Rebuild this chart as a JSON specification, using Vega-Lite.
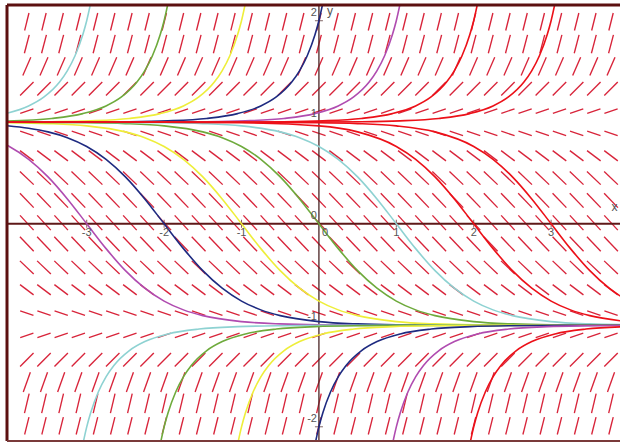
{
  "$schema": "https://vega.github.io/schema/vega-lite/v6.json",
  "width": 613,
  "height": 436,
  "autosize": {"type": "none"},
  "padding": {"left": 7, "top": 5, "right": 0, "bottom": 1},
  "background": "white",
  "config": {"view": {"stroke": null}},
  "datasets": {
    "grid": [
      {"xs": [-3.774,-3.552,-3.33,-3.108,-2.886,-2.664,-2.442,-2.22,-1.998,-1.776,-1.554,-1.332,-1.11,-0.888,-0.666,-0.444,-0.222,0,0.222,0.444,0.666,0.888,1.11,1.332,1.554,1.776,1.998,2.22,2.442,2.664,2.886,3.108,3.33,3.552,3.774],
       "ys": [1.99,1.77,1.55,1.33,1.11,0.89,0.67,0.45,0.23,0.01,-0.2,-0.43,-0.65,-0.88,-1.1,-1.34,-1.56,-1.77,-1.99]}
    ],
    "curves": [
      {"id":"m1","set":"purple","xs":[-4.05,-4,-3.75,-3.5,-3.25,-3,-2.75,-2.5,-2.25,-2,-1.75,-1.5,-1,-0.5,0,1,2,3.95],"ys":[0.7818,0.7616,0.6351,0.4621,0.2449,0,-0.2449,-0.4621,-0.6351,-0.7616,-0.8483,-0.9051,-0.964,-0.9866,-0.9951,-0.9993,-0.9999,-1]},
      {"id":"m2","set":"navy","xs":[-4.05,-3.75,-3.5,-3.25,-3,-2.75,-2.5,-2.25,-2,-1.75,-1.5,-1.25,-1,-0.75,-0.5,0,0.5,1,2,3.95],"ys":[0.9672,0.9413,0.9051,0.8483,0.7616,0.6351,0.4621,0.2449,0,-0.2449,-0.4621,-0.6351,-0.7616,-0.8483,-0.9051,-0.964,-0.9866,-0.9951,-0.9993,-1]},
      {"id":"m3","set":"yellow","xs":[-4.05,-3.5,-3,-2.5,-2.25,-2,-1.75,-1.5,-1.25,-1,-0.75,-0.5,-0.25,0,0.25,0.5,1,1.5,2,3,3.95],"ys":[0.9955,0.9866,0.964,0.9051,0.8483,0.7616,0.6351,0.4621,0.2449,0,-0.2449,-0.4621,-0.6351,-0.7616,-0.8483,-0.9051,-0.964,-0.9866,-0.9951,-0.9993,-1]},
      {"id":"m4","set":"green","xs":[-4.05,-3,-2.5,-2,-1.5,-1.25,-1,-0.75,-0.5,-0.25,0,0.25,0.5,0.75,1,1.25,1.5,2,2.5,3,3.95],"ys":[0.9994,0.9951,0.9866,0.964,0.9051,0.8483,0.7616,0.6351,0.4621,0.2449,0,-0.2449,-0.4621,-0.6351,-0.7616,-0.8483,-0.9051,-0.964,-0.9866,-0.9951,-0.9993]},
      {"id":"m5","set":"cyan","xs":[-4.05,-3,-2,-1.5,-1,-0.5,-0.25,0,0.25,0.5,0.75,1,1.25,1.5,1.75,2,2.25,2.5,3,3.5,3.95],"ys":[1,0.9993,0.9951,0.9866,0.964,0.9051,0.8483,0.7616,0.6351,0.4621,0.2449,0,-0.2449,-0.4621,-0.6351,-0.7616,-0.8483,-0.9051,-0.964,-0.9866,-0.9946]},
      {"id":"u1","set":"cyan","xs":[-4.05,-3.751,-3.551,-3.351,-3.251,-3.151,-3.051,-3.001,-2.931],"ys":[1.0851,1.1605,1.2492,1.396,1.506,1.6546,1.862,1.998,2.241]},
      {"id":"u2","set":"green","xs":[-4.05,-3.451,-3.051,-2.751,-2.551,-2.351,-2.251,-2.151,-2.051,-2.001,-1.931],"ys":[1.0111,1.0373,1.085,1.1605,1.2492,1.396,1.506,1.6546,1.862,1.998,2.241]},
      {"id":"u3","set":"yellow","xs":[-4.05,-3.451,-2.951,-2.451,-2.051,-1.751,-1.551,-1.351,-1.251,-1.151,-1.051,-1.001,-0.931],"ys":[1.0015,1.005,1.0136,1.0373,1.085,1.1605,1.2492,1.396,1.506,1.6546,1.862,1.998,2.241]},
      {"id":"u4","set":"navy","xs":[-4.05,-3.451,-2.451,-1.951,-1.451,-1.051,-0.751,-0.551,-0.351,-0.251,-0.151,-0.051,-0.001,0.069],"ys":[1.0002,1.0007,1.005,1.0136,1.0373,1.085,1.1605,1.2492,1.396,1.506,1.6546,1.862,1.998,2.241]},
      {"id":"u5","set":"purple","xs":[-4.05,-2.451,-1.451,-0.951,-0.451,-0.051,0.249,0.449,0.649,0.749,0.849,0.949,0.999,1.069],"ys":[1,1.0007,1.005,1.0136,1.0373,1.085,1.1605,1.2492,1.396,1.506,1.6546,1.862,1.998,2.241]},
      {"id":"l1","set":"cyan","xs":[-3.069,-2.999,-2.949,-2.849,-2.749,-2.649,-2.449,-2.249,-1.949,-1.549,-1.049,-0.549,0.451,3.95],"ys":[-2.241,-1.998,-1.862,-1.6546,-1.506,-1.396,-1.2492,-1.1605,-1.085,-1.0373,-1.0136,-1.005,-1.0007,-1]},
      {"id":"l2","set":"green","xs":[-2.069,-1.999,-1.949,-1.849,-1.749,-1.649,-1.449,-1.249,-0.949,-0.549,-0.049,0.451,1.451,3.95],"ys":[-2.241,-1.998,-1.862,-1.6546,-1.506,-1.396,-1.2492,-1.1605,-1.085,-1.0373,-1.0136,-1.005,-1.0007,-1]},
      {"id":"l3","set":"yellow","xs":[-1.069,-0.999,-0.949,-0.849,-0.749,-0.649,-0.449,-0.249,0.051,0.451,0.951,1.451,2.451,3.95],"ys":[-2.241,-1.998,-1.862,-1.6546,-1.506,-1.396,-1.2492,-1.1605,-1.085,-1.0373,-1.0136,-1.005,-1.0007,-1]},
      {"id":"l4","set":"navy","xs":[-0.069,0.001,0.051,0.151,0.251,0.351,0.551,0.751,1.051,1.451,1.951,2.451,3.451,3.95],"ys":[-2.241,-1.998,-1.862,-1.6546,-1.506,-1.396,-1.2492,-1.1605,-1.085,-1.0373,-1.0136,-1.005,-1.0007,-1.0004]},
      {"id":"l5","set":"purple","xs":[0.931,1.001,1.051,1.151,1.251,1.351,1.551,1.751,2.051,2.451,2.951,3.451,3.95],"ys":[-2.241,-1.998,-1.862,-1.6546,-1.506,-1.396,-1.2492,-1.1605,-1.085,-1.0373,-1.0136,-1.005,-1.0017]},
      {"id":"m6","set":"red","xs":[-4.05,-2,-1,0,0.5,1,1.25,1.5,1.75,2,2.25,2.5,2.75,3,3.25,3.5,3.95],"ys":[1,0.9993,0.9951,0.964,0.9051,0.7616,0.6351,0.4621,0.2449,0,-0.2449,-0.4621,-0.6351,-0.7616,-0.8483,-0.9051,-0.9603]},
      {"id":"m7","set":"red","xs":[-4.05,-1,0,0.5,1,1.5,2,2.25,2.5,2.75,3,3.25,3.5,3.75,3.95],"ys":[1,0.9993,0.9951,0.9866,0.964,0.9051,0.7616,0.6351,0.4621,0.2449,0,-0.2449,-0.4621,-0.6351,-0.7398]},
      {"id":"u6","set":"red","xs":[-4.05,-1.451,-0.451,0.049,0.549,0.949,1.249,1.449,1.649,1.749,1.849,1.949,1.999,2.069],"ys":[1,1.0007,1.005,1.0136,1.0373,1.085,1.1605,1.2492,1.396,1.506,1.6546,1.862,1.998,2.241]},
      {"id":"u7","set":"red","xs":[-4.05,-0.451,0.549,1.049,1.549,1.949,2.249,2.449,2.649,2.749,2.849,2.949,2.999,3.069],"ys":[1,1.0007,1.005,1.0136,1.0373,1.085,1.1605,1.2492,1.396,1.506,1.6546,1.862,1.998,2.241]},
      {"id":"l6","set":"red","xs":[1.931,2.001,2.051,2.151,2.251,2.351,2.551,2.751,3.051,3.451,3.95],"ys":[-2.241,-1.998,-1.862,-1.6546,-1.506,-1.396,-1.2492,-1.1605,-1.085,-1.0373,-1.0136]}
    ]
  },
  "layer": [
    {
      "data": {"name": "grid"},
      "transform": [
        {"flatten": ["xs"], "as": ["x"]},
        {"flatten": ["ys"], "as": ["y"]}
      ],
      "mark": {"type": "point", "filled": false, "size": 4, "stroke": "#d8243a", "strokeWidth": 1.35, "opacity": 1},
      "encoding": {
        "x": {"field": "x", "type": "quantitative", "scale": {"domain": [-4.03, 3.89], "nice": false, "zero": false}, "axis": null},
        "y": {"field": "y", "type": "quantitative", "scale": {"domain": [-2.14, 2.155], "nice": false, "zero": false}, "axis": null},
        "shape": {"field": "y", "type": "nominal", "legend": null,
          "scale": {
            "domain": [1.99,1.77,1.55,1.33,1.11,0.89,0.67,0.45,0.23,0.01,-0.2,-0.43,-0.65,-0.88,-1.1,-1.34,-1.56,-1.77,-1.99],
            "range": ["M-2.18,8.73L2.18,-8.73","M-2.42,9.19L2.42,-9.19","M-3.99,9.17L3.99,-9.17","M-6.72,6.72L6.72,-6.72","M-6.61,2.31L6.61,-2.31","M-6.65,-2.19L6.65,2.19","M-6.8,-5.1L6.8,5.1","M-6.89,-6.54L6.89,6.54","M-6.9,-7.24L6.9,7.24","M-6.79,-7.34L6.79,7.34","M-6.9,-7.24L6.9,7.24","M-6.89,-6.54L6.89,6.54","M-6.8,-5.1L6.8,5.1","M-6.65,-2.19L6.65,2.19","M-6.61,2.31L6.61,-2.31","M-6.72,6.72L6.72,-6.72","M-3.53,9.89L3.53,-9.89","M-2.32,9.73L2.32,-9.73","M-2.18,8.73L2.18,-8.73"]
          }
        }
      }
    },
    {
      "data": {"values": [{}]},
      "mark": {"type": "rule", "color": "#5e1818", "strokeWidth": 2},
      "encoding": {"y": {"datum": 0, "type": "quantitative", "scale": {"domain": [-2.14, 2.155], "nice": false, "zero": false}, "axis": null}}
    },
    {
      "data": {"values": [{}]},
      "mark": {"type": "rule", "color": "#4a2424", "strokeWidth": 1.3},
      "encoding": {"x": {"datum": 0, "type": "quantitative", "scale": {"domain": [-4.03, 3.89], "nice": false, "zero": false}, "axis": null}}
    },
    {
      "data": {"values": [{"v": -3}, {"v": -2}, {"v": -1}, {"v": 1}, {"v": 2}, {"v": 3}]},
      "mark": {"type": "tick", "orient": "vertical", "size": 8, "thickness": 1, "color": "#5e1818"},
      "encoding": {
        "x": {"field": "v", "type": "quantitative", "scale": {"domain": [-4.03, 3.89], "nice": false, "zero": false}, "axis": null},
        "y": {"datum": 0, "type": "quantitative", "scale": {"domain": [-2.14, 2.155], "nice": false, "zero": false}, "axis": null}
      }
    },
    {
      "data": {"values": [{"v": 2}, {"v": 1}, {"v": -1}, {"v": -2}]},
      "mark": {"type": "tick", "orient": "horizontal", "size": 8, "thickness": 1, "color": "#4a2424"},
      "encoding": {
        "y": {"field": "v", "type": "quantitative", "scale": {"domain": [-2.14, 2.155], "nice": false, "zero": false}, "axis": null},
        "x": {"datum": 0, "type": "quantitative", "scale": {"domain": [-4.03, 3.89], "nice": false, "zero": false}, "axis": null}
      }
    },
    {
      "data": {"name": "curves"},
      "transform": [{"flatten": ["xs", "ys"], "as": ["x", "y"]}],
      "mark": {"type": "line", "interpolate": "monotone", "clip": true, "strokeWidth": 1.6},
      "encoding": {
        "x": {"field": "x", "type": "quantitative", "scale": {"domain": [-4.03, 3.89], "nice": false, "zero": false}, "axis": null},
        "y": {"field": "y", "type": "quantitative", "scale": {"domain": [-2.14, 2.155], "nice": false, "zero": false}, "axis": null},
        "color": {"field": "set", "type": "nominal", "legend": null,
          "scale": {"domain": ["cyan", "green", "yellow", "navy", "purple", "red"], "range": ["#8ed2d2", "#6eaa3c", "#eeee3a", "#1e2a80", "#b04cb0", "#ec1018"]}},
        "detail": {"field": "id", "type": "nominal"}
      }
    },
    {
      "data": {"values": [{"v": -3, "t": "-3"}, {"v": -2, "t": "-2"}, {"v": -1, "t": "-1"}, {"v": 1, "t": "1"}, {"v": 2, "t": "2"}, {"v": 3, "t": "3"}]},
      "mark": {"type": "text", "dy": 9, "fontSize": 11, "font": "Liberation Sans", "color": "#555555", "align": "center", "baseline": "middle"},
      "encoding": {
        "x": {"field": "v", "type": "quantitative", "scale": {"domain": [-4.03, 3.89], "nice": false, "zero": false}, "axis": null},
        "y": {"datum": 0, "type": "quantitative", "scale": {"domain": [-2.14, 2.155], "nice": false, "zero": false}, "axis": null},
        "text": {"field": "t"}
      }
    },
    {
      "data": {"values": [{"v": 2, "t": "2"}, {"v": 1, "t": "1"}, {"v": 0, "t": "0"}, {"v": -1, "t": "-1"}, {"v": -2, "t": "-2"}]},
      "mark": {"type": "text", "dx": -2, "dy": -8, "fontSize": 11, "font": "Liberation Sans", "color": "#555555", "align": "right", "baseline": "middle"},
      "encoding": {
        "y": {"field": "v", "type": "quantitative", "scale": {"domain": [-2.14, 2.155], "nice": false, "zero": false}, "axis": null},
        "x": {"datum": 0, "type": "quantitative", "scale": {"domain": [-4.03, 3.89], "nice": false, "zero": false}, "axis": null},
        "text": {"field": "t"}
      }
    },
    {
      "data": {"values": [{"t": "0"}]},
      "mark": {"type": "text", "dx": 3, "dy": 9, "fontSize": 11, "font": "Liberation Sans", "color": "#555555", "align": "left", "baseline": "middle"},
      "encoding": {
        "x": {"datum": 0, "type": "quantitative", "scale": {"domain": [-4.03, 3.89], "nice": false, "zero": false}, "axis": null},
        "y": {"datum": 0, "type": "quantitative", "scale": {"domain": [-2.14, 2.155], "nice": false, "zero": false}, "axis": null},
        "text": {"field": "t"}
      }
    },
    {
      "data": {"values": [{"t": "y"}]},
      "mark": {"type": "text", "dx": 11, "dy": -10, "fontSize": 12, "font": "Liberation Sans", "color": "#555555", "align": "center", "baseline": "middle"},
      "encoding": {
        "x": {"datum": 0, "type": "quantitative", "scale": {"domain": [-4.03, 3.89], "nice": false, "zero": false}, "axis": null},
        "y": {"datum": 2, "type": "quantitative", "scale": {"domain": [-2.14, 2.155], "nice": false, "zero": false}, "axis": null},
        "text": {"field": "t"}
      }
    },
    {
      "data": {"values": [{"t": "x"}]},
      "mark": {"type": "text", "dy": -17, "fontSize": 12, "font": "Liberation Sans", "color": "#555555", "align": "left", "baseline": "middle"},
      "encoding": {
        "x": {"datum": 3.78, "type": "quantitative", "scale": {"domain": [-4.03, 3.89], "nice": false, "zero": false}, "axis": null},
        "y": {"datum": 0, "type": "quantitative", "scale": {"domain": [-2.14, 2.155], "nice": false, "zero": false}, "axis": null},
        "text": {"field": "t"}
      }
    },
    {
      "data": {"values": [{}]},
      "mark": {"type": "rule", "color": "#5c1010", "strokeWidth": 3},
      "encoding": {"x": {"datum": -4.03, "type": "quantitative", "scale": {"domain": [-4.03, 3.89], "nice": false, "zero": false}, "axis": null}}
    },
    {
      "data": {"values": [{}]},
      "mark": {"type": "rule", "color": "#5c1010", "strokeWidth": 3},
      "encoding": {"y": {"datum": 2.155, "type": "quantitative", "scale": {"domain": [-2.14, 2.155], "nice": false, "zero": false}, "axis": null}}
    },
    {
      "data": {"values": [{}]},
      "mark": {"type": "rule", "color": "#7a3a3a", "strokeWidth": 2},
      "encoding": {"y": {"datum": -2.14, "type": "quantitative", "scale": {"domain": [-2.14, 2.155], "nice": false, "zero": false}, "axis": null}}
    }
  ]
}
